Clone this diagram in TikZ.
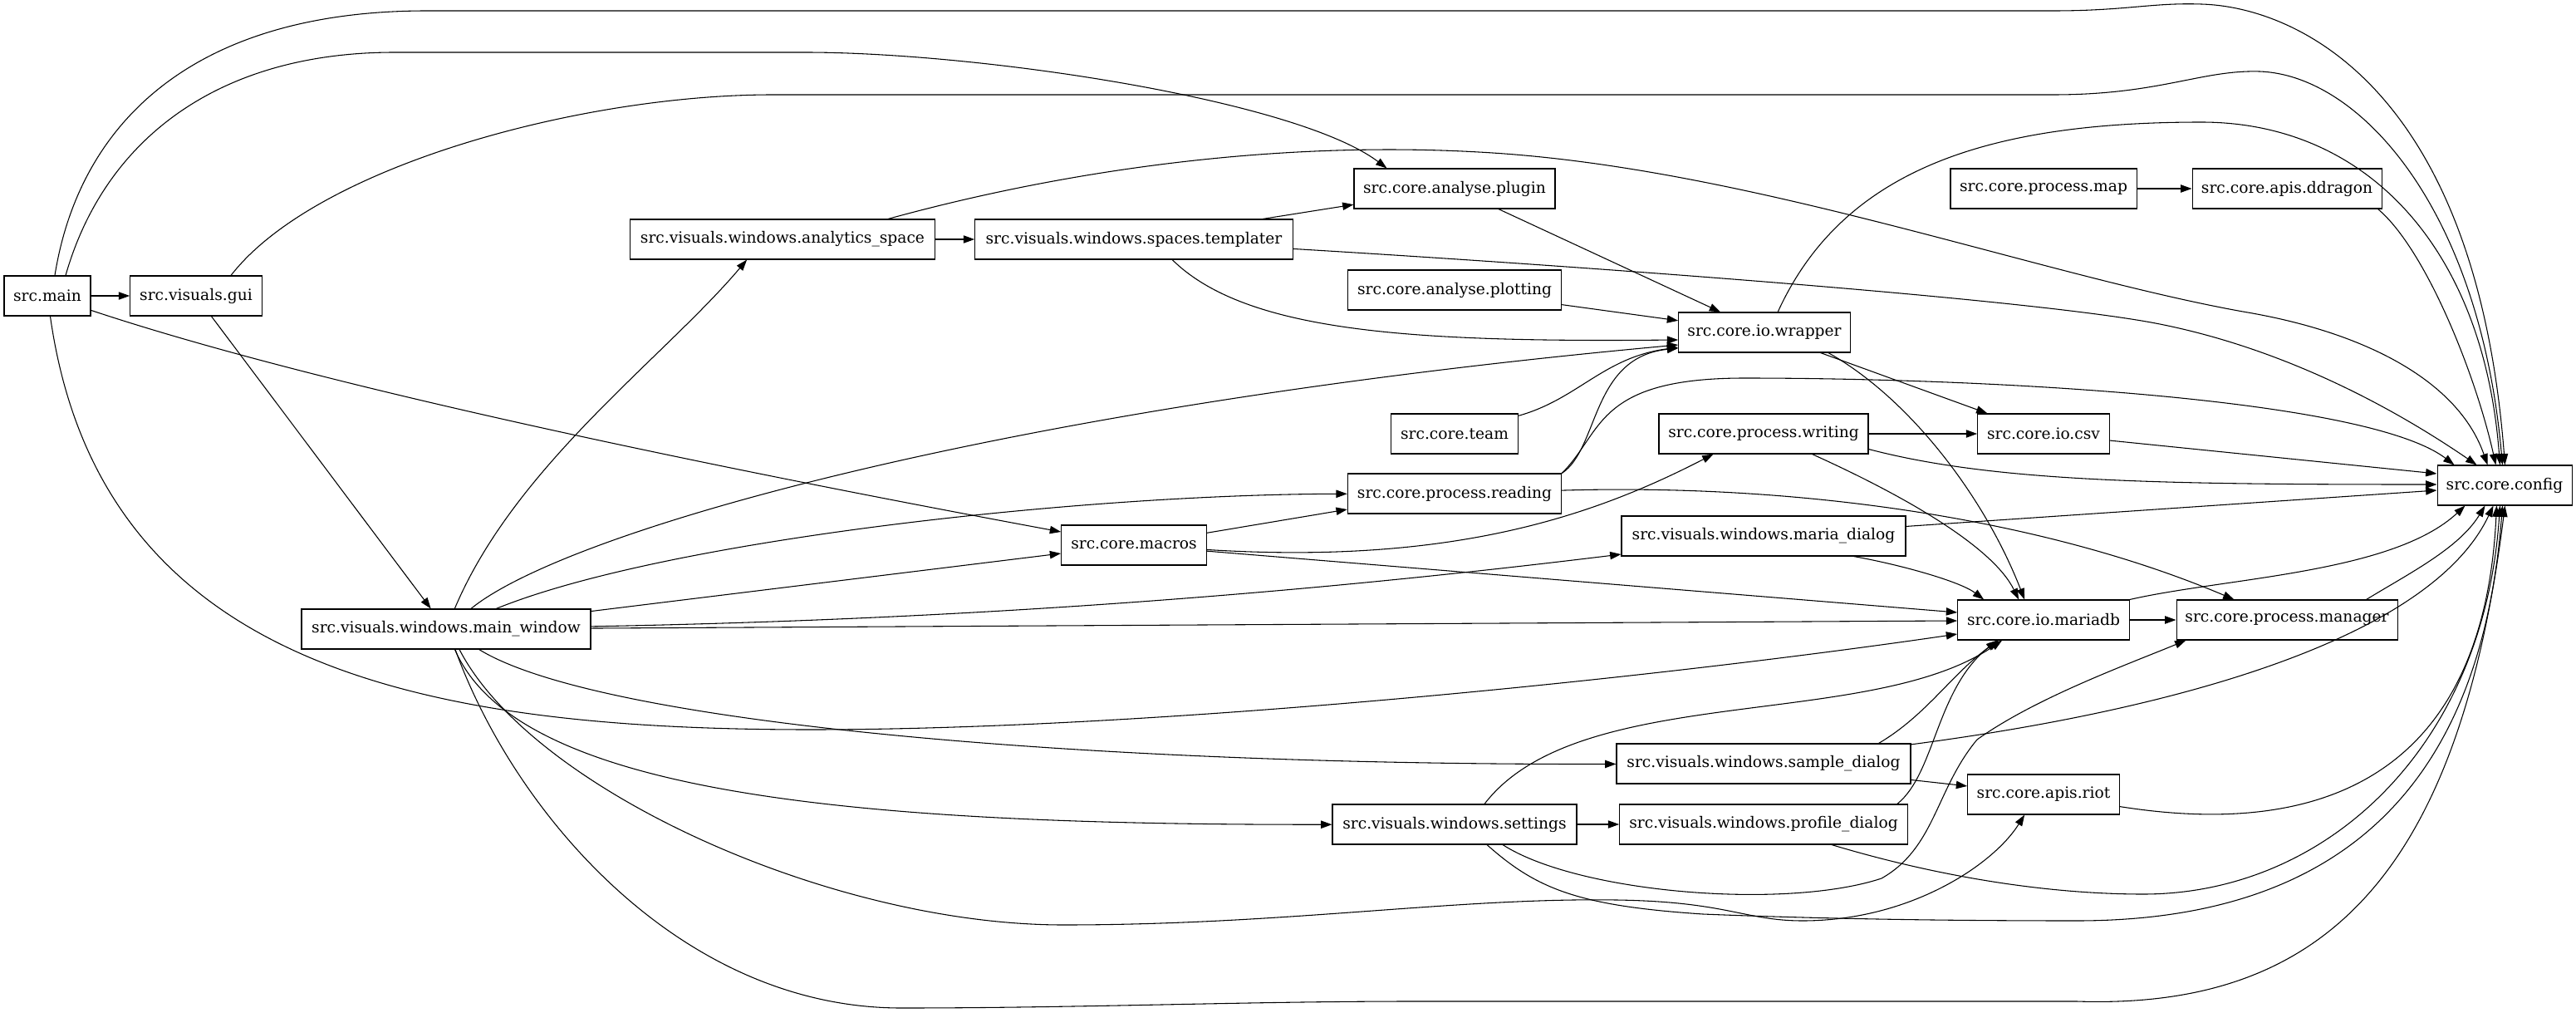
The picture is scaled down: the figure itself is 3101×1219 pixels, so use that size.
\documentclass[tikz,border=0pt]{standalone}
\usepackage{fontspec}
\setmainfont{DejaVu Serif}
\usetikzlibrary{arrows.meta,calc}
\tikzset{
  nd/.style={draw, rectangle, line width=0.8pt, minimum height=36pt, inner xsep=2pt, inner ysep=0pt, font=\fontsize{14}{16}\selectfont},
  e/.style={line width=0.8pt, -{Triangle[length=10pt,width=7pt]}}
}
\begin{document}
\begin{tikzpicture}[x=0.75pt,y=-0.75pt]
\useasboundingbox[fill=white] (0,0) rectangle (3101,1219);
% nodes
\node[nd, minimum width=78pt] (main) at (57,356) {src.main};
\node[nd, minimum width=119pt] (gui) at (236,356) {src.visuals.gui};
\node[nd, minimum width=261pt] (mainwin) at (537,757) {src.visuals.windows.main\_window};
\node[nd, minimum width=275pt] (analytics) at (942,288) {src.visuals.windows.analytics\_space};
\node[nd, minimum width=287pt] (templater) at (1365,288) {src.visuals.windows.spaces.templater};
\node[nd, minimum width=131pt] (macros) at (1365,656) {src.core.macros};
\node[nd, minimum width=181.5pt] (plugin) at (1751,227) {src.core.analyse.plugin};
\node[nd, minimum width=193pt] (plotting) at (1751,349) {src.core.analyse.plotting};
\node[nd, minimum width=115pt] (team) at (1751,522) {src.core.team};
\node[nd, minimum width=193pt] (reading) at (1751,594) {src.core.process.reading};
\node[nd, minimum width=220.5pt] (settings) at (1751,992) {src.visuals.windows.settings};
\node[nd, minimum width=155pt] (wrapper) at (2124,400) {src.core.io.wrapper};
\node[nd, minimum width=189pt] (writing) at (2123,522) {src.core.process.writing};
\node[nd, minimum width=256.5pt] (maria) at (2123,645) {src.visuals.windows.maria\_dialog};
\node[nd, minimum width=265.5pt] (sample) at (2123,919) {src.visuals.windows.sample\_dialog};
\node[nd, minimum width=260pt] (profile) at (2123,992) {src.visuals.windows.profile\_dialog};
\node[nd, minimum width=168pt] (pmap) at (2460,227) {src.core.process.map};
\node[nd, minimum width=119pt] (csv) at (2460,522) {src.core.io.csv};
\node[nd, minimum width=155pt] (mariadb) at (2460,746) {src.core.io.mariadb};
\node[nd, minimum width=137pt] (riot) at (2460,956) {src.core.apis.riot};
\node[nd, minimum width=171pt] (ddragon) at (2753,227) {src.core.apis.ddragon};
\node[nd, minimum width=199.5pt] (manager) at (2753,746) {src.core.process.manager};
\node[nd, minimum width=121.5pt] (config) at (3015,584) {src.core.config};
% main
\draw[e] (main) -- (gui);
\draw[e] ($(main.north)+(9,0)$) .. controls (95,150) and (230,13) .. (514,13) -- (2472,13) .. controls (2560,13) and (2590,3) .. (2650,5) .. controls (2760,8) and (2980,100) .. ($(config.north west)+(82,0)$);
\draw[e] ($(main.north)+(22,0)$) .. controls (125,170) and (260,63) .. (475,63) -- (969,63) .. controls (1180,63) and (1560,120) .. ($(plugin.north west)+(40,0)$);
\draw[e] (main) .. controls (400,470) and (900,570) .. ($(macros.west)+(0,-16)$);
\draw[e] (main) .. controls (120,800) and (500,878) .. (976,878) .. controls (1400,878) and (2000,815) .. ($(mariadb.west)+(0,17)$);
% gui
\draw[e] ($(gui.north)+(42,0)$) .. controls (380,200) and (700,114) .. (930,114) -- (2472,114) .. controls (2600,114) and (2650,84) .. (2720,86) .. controls (2840,90) and (2985,250) .. ($(config.north west)+(79,0)$);
\draw[e] (gui) -- (mainwin);
% main window
\draw[e] (mainwin) .. controls (620,560) and (800,430) .. ($(analytics.south west)+(141,0)$);
\draw[e] (mainwin) .. controls (680,640) and (1200,490) .. ($(wrapper.west)+(0,15)$);
\draw[e] (mainwin) .. controls (800,650) and (1300,595) .. (reading);
\draw[e] (mainwin) -- ($(macros.west)+(0,10)$);
\draw[e] (mainwin) .. controls (1200,745) and (1600,710) .. ($(maria.west)+(0,22)$);
\draw[e] (mainwin) -- ($(mariadb.west)+(0,1)$);
\draw[e] (mainwin) .. controls (720,870) and (1300,921) .. (sample);
\draw[e] (mainwin) .. controls (620,950) and (1000,993) .. (settings);
\draw[e] ($(mainwin.south)+(16,0)$) .. controls (640,950) and (1000,1113) .. (1280,1113) .. controls (1550,1113) and (1750,1080) .. (1946,1083) .. controls (2080,1085) and (2100,1108) .. (2170,1108) .. controls (2300,1108) and (2400,1040) .. ($(riot.south west)+(69,0)$);
\draw[e] ($(mainwin.south)+(11,0)$) .. controls (620,980) and (820,1213) .. (1085,1213) .. controls (1300,1213) and (1500,1205) .. (1700,1205) -- (2500,1205) .. controls (2800,1215) and (2960,1050) .. ($(config.south west)+(82,0)$);
% settings
\draw[e] (settings) -- (profile);
\draw[e] ($(settings.north)+(36,0)$) .. controls (1900,820) and (2250,880) .. ($(mariadb.south west)+(54,0)$);
\draw[e] ($(settings.south)+(58,0)$) .. controls (1900,1075) and (2150,1095) .. (2265,1057) .. controls (2330,1020) and (2330,950) .. (2380,890) .. controls (2450,840) and (2560,800) .. ($(manager.south west)+(12,0)$);
\draw[e] ($(settings.south)+(39,0)$) .. controls (1850,1070) and (1900,1090) .. (2050,1100) .. controls (2200,1106) and (2350,1108) .. (2500,1108) .. controls (2860,1108) and (2990,900) .. ($(config.south west)+(79,0)$);
% sample
\draw[e] ($(sample.north east)+(-39,0)$) .. controls (2320,860) and (2350,810) .. ($(mariadb.south west)+(50,0)$);
\draw[e] (sample) -- (riot);
\draw[e] (sample) .. controls (2650,850) and (2930,760) .. ($(config.south west)+(68,0)$);
% profile
\draw[e] ($(profile.north east)+(-13,0)$) .. controls (2330,930) and (2330,830) .. ($(mariadb.south west)+(48,0)$);
\draw[e] (profile) .. controls (2350,1060) and (2480,1076) .. (2580,1076) .. controls (2800,1076) and (2990,900) .. ($(config.south west)+(76,0)$);
% riot
\draw[e] (riot) .. controls (2800,1010) and (2990,930) .. ($(config.south west)+(72,0)$);
% mariadb, manager
\draw[e] (mariadb) -- (manager);
\draw[e] (mariadb.north east) .. controls (2680,695) and (2880,690) .. ($(config.south west)+(34,0)$);
\draw[e] ($(manager.north east)+(-38,0)$) .. controls (2900,690) and (2960,660) .. ($(config.south west)+(58,0)$);
% macros
\draw[e] (macros) -- ($(reading.west)+(0,19)$);
\draw[e] (macros) .. controls (1750,680) and (1920,620) .. ($(writing.south west)+(66,0)$);
\draw[e] (macros) -- ($(mariadb.west)+(0,-9)$);
% reading
\draw[e] (reading.north east) .. controls (1925,540) and (1915,430) .. ($(wrapper.west)+(0,19)$);
\draw[e] (reading.north east) .. controls (1930,520) and (1920,455) .. (2100,455) .. controls (2400,455) and (2850,480) .. ($(config.north west)+(21,0)$);
\draw[e] (reading) .. controls (2150,582) and (2450,620) .. ($(manager.north west)+(70,0)$);
% templater, analytics
\draw[e] (templater) -- (plugin);
\draw[e] ($(templater.south west)+(238,0)$) .. controls (1500,400) and (1700,412) .. ($(wrapper.west)+(0,9)$);
\draw[e] (templater) .. controls (1900,320) and (2450,360) .. (2600,390) .. controls (2750,420) and (2880,490) .. ($(config.north west)+(48,0)$);
\draw[e] (analytics) -- (templater);
\draw[e] ($(analytics.north)+(127,0)$) .. controls (1300,200) and (1550,170) .. (1780,183) .. controls (2100,200) and (2450,330) .. (2700,375) .. controls (2850,400) and (2960,460) .. ($(config.north west)+(61,0)$);
% plugin, plotting, team
\draw[e] (plugin) -- (wrapper);
\draw[e] (plotting) -- (wrapper);
\draw[e] (team) .. controls (1900,480) and (1930,430) .. ($(wrapper.west)+(0,18)$);
% wrapper
\draw[e] (wrapper) -- (csv);
\draw[e] ($(wrapper.south east)+(-27,0)$) .. controls (2300,480) and (2390,600) .. ($(mariadb.north west)+(81,0)$);
\draw[e] ($(wrapper.north west)+(120,0)$) .. controls (2220,200) and (2400,147) .. (2650,147) .. controls (2850,147) and (2990,300) .. ($(config.north west)+(76,0)$);
% map, ddragon
\draw[e] (pmap) -- (ddragon);
\draw[e] ($(ddragon.south east)+(-5,0)$) .. controls (2920,300) and (2980,450) .. ($(config.north west)+(71,0)$);
% writing
\draw[e] (writing) -- (csv);
\draw[e] ($(writing.south east)+(0,-6)$) .. controls (2400,580) and (2600,583) .. ($(config.west)+(0,-1)$);
\draw[e] ($(writing.south west)+(185,0)$) .. controls (2300,600) and (2400,660) .. ($(mariadb.north west)+(74,0)$);
% csv, maria
\draw[e] (csv) -- ($(config.west)+(0,-14)$);
\draw[e] (maria) -- ($(config.west)+(0,6)$);
\draw[e] ($(maria.south east)+(-63,0)$) .. controls (2290,680) and (2360,700) .. ($(mariadb.north west)+(32,0)$);
\end{tikzpicture}
\end{document}
